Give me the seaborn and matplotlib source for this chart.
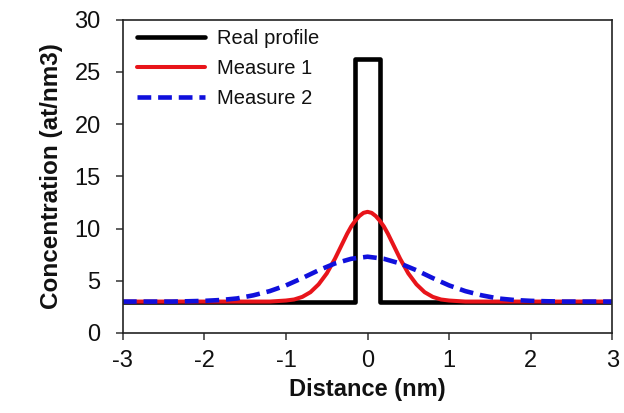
import matplotlib
matplotlib.use("Agg")
import matplotlib.pyplot as plt
import seaborn as sns

# real (box) profile, drawn as a step outline
real_x = [-3.0, -0.15, -0.15, 0.15, 0.15, 3.0]
real_y = [3.0, 3.0, 26.2, 26.2, 3.0, 3.0]

# measure 1: narrow peak
m1_x = [-3.0, -1.2, -1.1, -1.0, -0.9, -0.8, -0.7, -0.6, -0.5, -0.45, -0.4, -0.35, -0.3, -0.25,
        -0.2, -0.15, -0.1, -0.05, 0.0, 0.05, 0.1, 0.15, 0.2, 0.25, 0.3, 0.35, 0.4, 0.45,
        0.5, 0.6, 0.7, 0.8, 0.9, 1.0, 1.1, 1.2, 3.0]
m1_y = [3.0, 3.0, 3.05, 3.1, 3.2, 3.45, 3.9, 4.65, 5.7, 6.4, 7.1, 7.9, 8.7, 9.5,
        10.2, 10.75, 11.2, 11.5, 11.6, 11.5, 11.2, 10.75, 10.2, 9.5, 8.7, 7.9, 7.1, 6.4,
        5.7, 4.65, 3.9, 3.45, 3.2, 3.1, 3.05, 3.0, 3.0]

# measure 2: broad peak
m2_x = [-3.0, -2.4, -2.2, -2.0, -1.8, -1.6, -1.4, -1.2, -1.0, -0.8, -0.6, -0.4, -0.2, 0.0,
        0.2, 0.4, 0.6, 0.8, 1.0, 1.2, 1.4, 1.6, 1.8, 2.0, 2.2, 2.4, 3.0]
m2_y = [3.0, 3.0, 3.03, 3.07, 3.15, 3.3, 3.6, 4.0, 4.55, 5.25, 6.0, 6.65, 7.1, 7.3,
        7.1, 6.65, 6.0, 5.25, 4.55, 4.0, 3.6, 3.3, 3.15, 3.07, 3.03, 3.0, 3.0]

sns.set_style("ticks")
plt.rcParams['font.family'] = ['Liberation Sans', 'DejaVu Sans']
plt.rcParams['axes.unicode_minus'] = False
plt.rcParams['text.color'] = '#111111'
plt.rcParams['axes.labelcolor'] = '#111111'

fig = plt.figure(figsize=(6.24, 4.13), dpi=100)
ax = fig.add_axes([0.197, 0.194, 0.784, 0.758])

sns.lineplot(x=real_x, y=real_y, sort=False, estimator=None, color='black',
             linewidth=3.3, label='Real profile', ax=ax)
sns.lineplot(x=m1_x, y=m1_y, sort=False, estimator=None, color='#e8141a',
             linewidth=2.9, label='Measure 1', ax=ax)
sns.lineplot(x=m2_x, y=m2_y, sort=False, estimator=None, color='#1010dc',
             linewidth=3.3, label='Measure 2', ax=ax)
ax.lines[2].set_dashes((3, 1.5))

ax.set_xlim(-3, 3)
ax.set_ylim(0, 30)
ax.set_xticks([-3, -2, -1, 0, 1, 2, 3])
ax.set_yticks([0, 5, 10, 15, 20, 25, 30])
ax.tick_params(axis='both', labelsize=17, length=5, width=1.1, color='#333333',
               labelcolor='#111111')
ax.tick_params(axis='x', pad=7)
ax.tick_params(axis='y', pad=11)
for s in ax.spines.values():
    s.set_visible(True)
    s.set_color('#222222')
    s.set_linewidth(1.2)

ax.set_xlabel('Distance (nm)', fontsize=17, fontweight='bold', labelpad=5)
ax.set_ylabel('Concentration (at/nm3)', fontsize=17.5, fontweight='bold', labelpad=8)

leg = ax.legend(loc='upper left', bbox_to_anchor=(0.028, 0.97), frameon=False,
                fontsize=14.5, handlelength=3.4, handletextpad=0.6, labelspacing=0.55,
                borderpad=0, borderaxespad=0)
leg.get_lines()[2].set_dashes((3, 1.5))

fig.savefig('out.png', dpi=100)
